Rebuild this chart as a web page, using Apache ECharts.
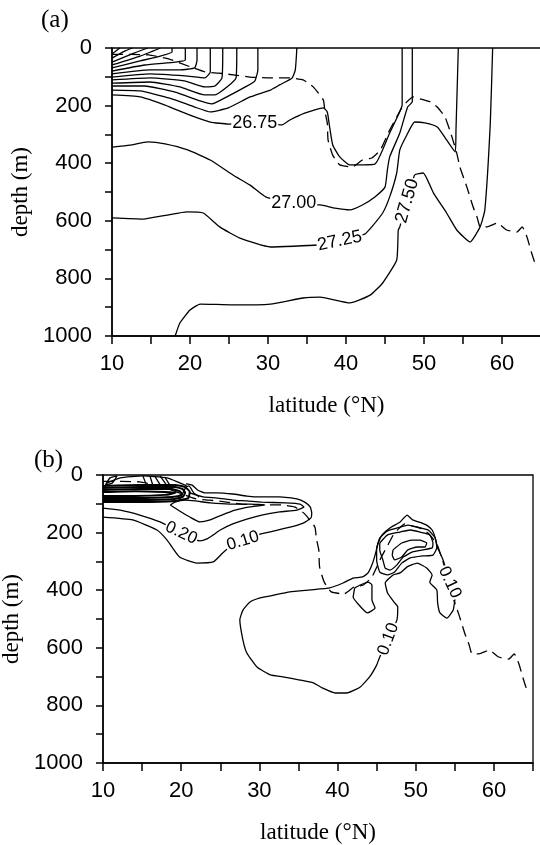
<!DOCTYPE html>
<html><head><meta charset="utf-8">
<script src="https://cdn.jsdelivr.net/npm/echarts@6/dist/echarts.min.js"></script>
<style>html,body{margin:0;padding:0;background:#fff}#c{width:540px;height:845px}</style>
</head><body><div id="c"></div>
<script>
// ---- tick labels ----
const latTickLabels = [10, 20, 30, 40, 50, 60];
const depthTickLabels = [0, 200, 400, 600, 800, 1000];

// ---- mixed-layer depth (dashed), same in both panels: [lat, depth] ----
const mixedLayer = [[10,22],[14.7,24],[17.5,40],[20,65],[21.9,83],[23.6,87],[25.8,94],[27.7,101],[30.3,104],[32.8,104],[34.5,111],[35.8,135],[37.1,181],[37.3,222],[37.6,260],[37.7,319],[38.3,372],[39.2,406],[40.8,413],[42.1,389],[43.3,382],[44.4,354],[45.6,285],[46.5,240],[47.2,205],[47.8,187],[48.6,170],[49.1,174],[50.8,187],[51.7,205],[52.7,240],[53.3,285],[53.7,319],[54.2,365],[54.6,413],[55.5,483],[56.3,552],[56.8,587],[57.2,621],[58.1,621],[59.4,608],[60.6,632],[61.9,639],[62.6,621],[63.2,656],[63.8,712],[64.2,745]];

// ---- panel (a): density contours [lat, depth] ----
const a_f8 = [[10,21],[11.0,0]];
const a_f7 = [[10,35],[11.7,10],[12.6,0]];
const a_f6 = [[10,49],[12.9,17],[14.6,0]];
const a_f5 = [[10,59],[13.6,28],[16.2,0]];
const a_f4 = [[10,69],[13.6,45],[16.2,28],[17.7,14],[17.7,0]];
const a_f3 = [[10,80],[14.2,59],[18.1,49],[19.4,42],[19.4,0]];
const a_f2 = [[10,90],[14.9,76],[18.7,76],[20.6,69],[20.9,42],[20.9,0]];
const a_f1 = [[10,101],[14.9,90],[19.4,97],[21.9,104],[22.6,83],[22.6,0]];
const a_l1 = [[10,111],[14.9,104],[19.4,115],[21.9,135],[23.2,132],[24.1,104],[24.2,0]];
const a_l2 = [[10,122],[14.9,118],[18.7,135],[21.9,163],[23.2,163],[24.9,132],[25.9,104],[26.0,0]];
const a_l3 = [[10,132],[14.2,132],[18.1,153],[21.3,184],[22.8,194],[24.9,167],[27.1,135],[28.3,115],[28.7,76],[28.7,0]];
const a_l4 = [[10,146],[13.6,149],[17.4,174],[20.6,205],[22.6,222],[24.9,208],[27.7,170],[30.3,146],[31.5,128],[33.1,104],[33.5,76],[33.7,0]];
const a_2675 = [[10,163],[13.6,170],[16.8,198],[20.0,233],[22.6,257],[24.9,264],[28.3,262],[31.8,267],[32.8,250],[34.7,226],[37.1,208],[37.6,222],[37.9,274],[38.3,337],[39.2,378],[40.5,406],[43.7,403],[45.6,295],[46.7,233],[47.2,198],[47.2,0]];
const a_2700 = [[10,344],[12.3,337],[14.6,326],[16.8,333],[19.7,354],[22.6,389],[25.5,441],[27.7,476],[29.7,517],[33.3,540],[36.7,545],[38.6,556],[40.5,562],[42.1,545],[43.7,517],[45.0,483],[45.3,424],[45.6,378],[46.9,295],[47.9,205],[48.5,187],[48.5,0]];
const a_2725 = [[10,590],[14.0,594],[17.1,580],[19.6,569],[21.7,573],[23.8,621],[26.4,660],[30.3,691],[36.3,684],[39.2,670],[42.4,646],[43.3,621],[44.7,573],[45.6,517],[46.5,434],[46.9,354],[47.8,302],[48.8,257],[50.1,260],[51.7,274],[52.9,319],[54.0,361],[54.1,285],[54.4,0]];
const a_2750 = [[18.1,1000],[18.7,955],[20.0,910],[21.3,889],[25.5,892],[30.3,889],[34.5,868],[36.7,865],[40.5,885],[43.1,858],[44.7,816],[46.5,736],[46.7,632],[46.9,621],[47.85,531],[48.8,441],[49.9,434],[51.2,503],[52.9,573],[54.2,632],[55.9,674],[57.2,621],[57.8,562],[58.5,260],[58.8,0]];
// contour labels (a): [lat, depth, text]
const a_labels = [[28.3,262,'26.75'],[33.3,540,'27.00'],[39.2,670,'27.25'],[47.85,531,'27.50']];
const a_labelRotation = [0, 0, 12, 74];

// ---- panel (b): contours [lat, depth] ----
const b_k1 = [[10,38],[14.7,35],[19.2,35],[20.5,42],[21.1,59],[20.9,80],[19.2,90],[14.7,94],[10,94]];
const b_k2 = [[10,45],[14.7,42],[19.2,42],[20.2,49],[20.5,62],[20.2,76],[19.2,83],[14.7,87],[10,87]];
const b_k3 = [[10,52],[14.7,49],[18.8,49],[19.8,56],[20.1,66],[19.7,73],[18.8,76],[14.7,80],[10,80]];
const b_k4 = [[10,59],[14.1,56],[17.9,59],[19.3,62],[17.9,69],[14.1,73],[10,73]];
const b_arc = [[10.5,28],[12.2,10],[15.1,3],[18.2,10],[20.7,38]];
const b_v1 = [[15.1,3],[15.6,38]];
const b_v2 = [[16.0,3],[16.4,38]];
const b_v3 = [[16.6,3],[17.4,38]];
const b_v4 = [[17.3,3],[18.2,38]];
const b_v5 = [[17.9,7],[18.6,38]];
const b_corner = [[10.3,35],[10.9,10],[11.8,3],[11.2,28],[10.3,35]];
const b_spike = [[19.8,87],[20.6,42],[21.0,38],[21.6,62],[22.3,76]];
const b_tri = [[18.6,104],[19.8,125],[21.1,146],[22.4,163],[23.7,156],[25.2,139],[26.9,122],[28.8,111],[30.7,104],[28.8,101],[26.2,101],[23.7,97],[21.8,90],[20.5,87],[19.2,94],[18.6,104]];
const b_020 = [[10,115],[12.2,122],[14.7,139],[17.3,163],[20.0,201],[22.4,229],[23.3,222],[24.1,208],[25.0,191],[26.6,170],[28.4,153],[30.3,139],[32.6,128],[34.8,122],[35.7,111],[35.2,101],[33.3,97],[30.3,94],[28.4,90],[26.6,87],[24.6,80],[22.8,76],[21.1,62]];
const b_010w = [[10,146],[13.8,156],[16.9,191],[18.2,226],[19.8,285],[22.0,306],[24.1,302],[25.3,271],[25.9,257],[27.9,229],[30.1,205],[33.5,184],[35.6,167],[36.6,149],[36.7,132],[36.5,111],[35.8,94],[34.8,83],[32.6,76],[30.1,76],[28.4,73],[26.6,66],[24.6,62],[23.0,62],[22.1,52],[21.4,35],[20.6,31]];
const b_010e = [[54.8,469],[54.0,497],[53.1,479],[52.8,444],[52.7,399],[51.8,372],[52.1,347],[51.4,323],[50.2,306],[48.9,319],[48.0,340],[47.1,347],[46.1,375],[46.4,410],[47.3,444],[47.7,458],[47.6,503],[46.5,570],[45.4,632],[45.0,660],[44.1,701],[42.9,736],[41.2,757],[39.7,757],[38.1,740],[36.9,722],[35.2,712],[33.0,701],[31.4,694],[29.7,667],[28.4,618],[27.9,573],[27.5,503],[27.9,469],[28.8,441],[30.1,427],[31.4,420],[33.9,406],[36.5,399],[39.0,392],[40.7,375],[42.0,358],[43.2,354],[43.9,340],[44.4,312],[44.8,278],[45.2,236],[45.7,208],[46.7,184],[48.0,163],[48.9,139],[49.6,156],[50.8,167],[51.4,174],[52.1,191],[52.5,219],[52.8,253],[53.4,288],[53.7,312],[54.35,373],[55.0,434],[54.8,469]];
const b_small = [[42.2,392],[42.9,382],[43.9,372],[44.4,382],[44.4,434],[44.8,462],[43.8,479],[42.5,444],[42.0,424],[42.2,392]];
const b_i0 = [[45.0,253],[45.4,219],[46.4,194],[48.0,181],[49.0,174],[50.3,181],[51.6,191],[52.5,219],[52.7,253],[52.2,278],[50.9,281],[49.3,288],[48.2,306],[47.3,337],[46.4,347],[45.4,337],[45.0,295],[45.0,253]];
const b_i1 = [[45.4,236],[46.4,208],[48.0,198],[49.3,191],[50.5,198],[51.8,208],[52.2,236],[52.1,253],[50.9,260],[49.6,267],[48.4,285],[47.6,312],[46.7,330],[46.1,323],[45.8,295],[45.4,260],[45.4,236]];
const b_i2 = [[47.1,260],[48.2,236],[49.5,226],[50.5,226],[51.4,236],[51.2,250],[50.2,250],[49.0,260],[48.2,285],[47.3,295],[47.0,278],[47.1,260]];
// contour labels (b): [lat, depth, text]
const b_labels = [[20.0,201,'0.20'],[27.9,229,'0.10'],[46.5,570,'0.10'],[54.35,373,'0.10']];
const b_labelRotation = [-25, 17, 70, -65];

// ---- build chart ----
const chart = echarts.init(document.getElementById('c'), null, {renderer: 'canvas'});
function contour(data, gi, extra) {
  return Object.assign({
    type: 'line', data: data, xAxisIndex: gi, yAxisIndex: gi,
    showSymbol: false, symbol: 'none', smooth: 0.15, silent: true, animation: false,
    lineStyle: {color: '#000', width: 1.3}, z: 2
  }, extra || {});
}
const labelStyle = {color: '#000', textBorderWidth: 0, textBorderColor: 'transparent', textShadowBlur: 0,
                    fontFamily: 'Liberation Sans', fontWeight: 'normal', backgroundColor: '#fff', padding: [0, 1]};
function labels(items, rots, gi, size) {
  return {
    type: 'scatter', xAxisIndex: gi, yAxisIndex: gi, symbolSize: 0, silent: true, z: 5, animation: false,
    itemStyle: {color: '#000', opacity: 1},
    data: items.map((it, i) => ({value: [it[0], it[1]],
      label: Object.assign({show: true, position: 'inside', formatter: it[2], rotate: rots[i], fontSize: size}, labelStyle)})),
    label: Object.assign({show: true, position: 'inside', fontSize: size}, labelStyle)
  };
}
function xAx(gi) {
  return {
    gridIndex: gi, type: 'value', min: 10, max: 65, interval: 5,
    axisLine: {show: true, onZero: false, lineStyle: {color: '#000', width: 1.5}},
    axisTick: {show: true, inside: false, length: 8, lineStyle: {color: '#000', width: 1.5}},
    axisLabel: {formatter: v => latTickLabels.includes(v) ? String(v) : '', fontSize: 22,
                fontFamily: 'Liberation Sans', color: '#000', margin: 17},
    splitLine: {show: false},
    name: 'latitude (°N)', nameLocation: 'middle', nameGap: 58,
    nameTextStyle: {fontFamily: 'Liberation Serif', fontSize: 23, color: '#000'}
  };
}
function yAx(gi, gap) {
  return {
    gridIndex: gi, type: 'value', min: 0, max: 1000, interval: 100, inverse: true,
    axisLine: {show: true, onZero: false, lineStyle: {color: '#000', width: 1.5}},
    axisTick: {show: true, inside: false, length: 7, lineStyle: {color: '#000', width: 1.5}},
    axisLabel: {formatter: v => depthTickLabels.includes(v) ? String(v) : '', fontSize: 22,
                fontFamily: 'Liberation Sans', color: '#000', margin: 20},
    splitLine: {show: false},
    name: 'depth (m)', nameLocation: 'middle', nameRotate: 90, nameGap: gap,
    nameTextStyle: {fontFamily: 'Liberation Serif', fontSize: 23, color: '#000'}
  };
}
const dash = {lineStyle: {color: '#000', width: 1.3, type: [11, 6]}};
const thick = {lineStyle: {color: '#000', width: 2}};
const panelA = [a_f8, a_f7, a_f6, a_f5, a_f4, a_f3, a_f2, a_f1, a_l1, a_l2, a_l3, a_l4, a_2675, a_2700, a_2725, a_2750];
const panelBthin = [b_arc, b_v1, b_v2, b_v3, b_v4, b_v5, b_corner, b_spike, b_tri, b_020, b_010w, b_010e, b_small, b_i0, b_i1, b_i2];
const panelBthick = [b_k1, b_k2, b_k3, b_k4];
const series = [];
panelA.forEach(d => series.push(contour(d, 0)));
series.push(contour(mixedLayer, 0, dash));
panelBthin.forEach(d => series.push(contour(d, 1)));
panelBthick.forEach(d => series.push(contour(d, 1, thick)));
series.push(contour(mixedLayer, 1, dash));
series.push(labels(a_labels, a_labelRotation, 0, 18));
series.push(labels(b_labels, b_labelRotation, 1, 17));

chart.setOption({
  animation: false,
  backgroundColor: '#fff',
  grid: [
    {left: 112, top: 48, width: 429, height: 288, show: true, borderColor: '#000', borderWidth: 1.3, outerBoundsMode: 'none', containLabel: false},
    {left: 103, top: 475, width: 430, height: 288, show: true, borderColor: '#000', borderWidth: 1.3, outerBoundsMode: 'none', containLabel: false}
  ],
  xAxis: [xAx(0), xAx(1)],
  yAxis: [yAx(0, 76), yAx(1, 70)],
  graphic: [
    {type: 'text', left: 41, top: 8, style: {text: '(a)', font: '25px "Liberation Serif"', fill: '#000'}},
    {type: 'text', left: 34, top: 448, style: {text: '(b)', font: '25px "Liberation Serif"', fill: '#000'}}
  ],
  series: series
});
</script>
</body></html>
